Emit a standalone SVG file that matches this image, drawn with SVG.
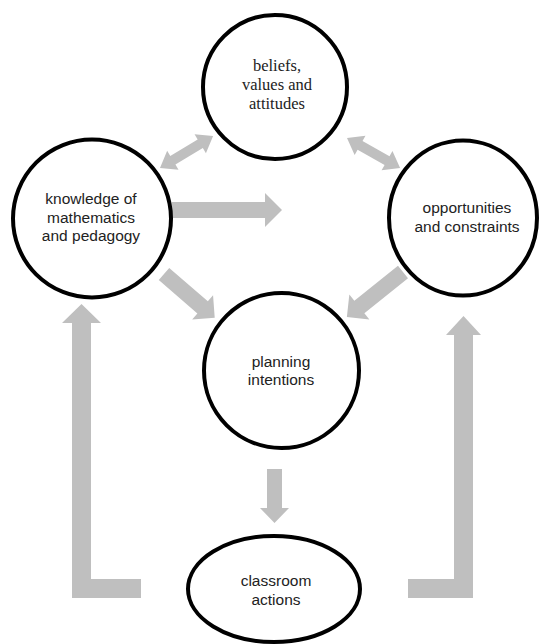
<svg xmlns="http://www.w3.org/2000/svg" width="539" height="644" viewBox="0 0 539 644">
<style>
.node{fill:#fff;stroke:#000;stroke-width:4}
.arr{fill:#bfbfbf;stroke:none}
.sans{font-family:"Liberation Sans",Arial,sans-serif;font-size:15.5px;fill:#222;text-anchor:middle}
.serif{font-family:"Liberation Serif","Times New Roman",serif;font-size:16.5px;fill:#222;text-anchor:middle}
</style>
<rect width="539" height="644" fill="#fff"/>
<g id="connectors">
<path class="arr" transform="translate(160,168) rotate(-31.1)" d="M0,0 L15,-11 L15,-5 L47,-5 L47,-11 L62,0 L47,11 L47,5 L15,5 L15,11 Z"/>
<path class="arr" transform="translate(347,138) rotate(29.5)" d="M0,0 L15,-11 L15,-5 L46,-5 L46,-11 L61,0 L46,11 L46,5 L15,5 L15,11 Z"/>
<path class="arr" d="M172,202 L265,202 L265,193 L282,210 L265,227 L265,218 L172,218 Z"/>
<path class="arr" transform="translate(164,274) rotate(40.8)" d="M0,-8 L51,-8 L51,-16 L67,0 L51,16 L51,8 L0,8 Z"/>
<path class="arr" transform="translate(403,272) rotate(141.2)" d="M0,-8 L56,-8 L56,-16 L72,0 L56,16 L56,8 L0,8 Z"/>
<path class="arr" d="M267,469 L282,469 L282,508 L289,508 L274.5,523 L260,508 L267,508 Z"/>
<path class="arr" d="M81.5,304 L101,323 L91,323 L91,579 L141,579 L141,598 L72,598 L72,323 L62,323 Z"/>
<path class="arr" d="M463.5,316 L481,335 L473,335 L473,598 L408,598 L408,579 L454,579 L454,335 L446,335 Z"/>
</g>
<g id="beliefs">
<circle class="node" cx="275" cy="87" r="72"/>
<text class="serif" x="277" y="71">beliefs,</text>
<text class="serif" x="277" y="90">values and</text>
<text class="serif" x="277" y="109">attitudes</text>
</g>
<g id="knowledge">
<circle class="node" cx="92" cy="218.5" r="79"/>
<text class="sans" x="91" y="204">knowledge of</text>
<text class="sans" x="91" y="223">mathematics</text>
<text class="sans" x="91" y="241">and pedagogy</text>
</g>
<g id="opportunities">
<ellipse class="node" cx="463" cy="218" rx="74" ry="77.5"/>
<text class="sans" x="467" y="213">opportunities</text>
<text class="sans" x="467" y="232">and constraints</text>
</g>
<g id="planning">
<circle class="node" cx="281.5" cy="370.5" r="77.5"/>
<text class="sans" x="281" y="367">planning</text>
<text class="sans" x="281" y="385">intentions</text>
</g>
<g id="classroom">
<ellipse class="node" cx="274" cy="589" rx="86" ry="53"/>
<text class="sans" x="276" y="586">classroom</text>
<text class="sans" x="276" y="605">actions</text>
</g>
</svg>
